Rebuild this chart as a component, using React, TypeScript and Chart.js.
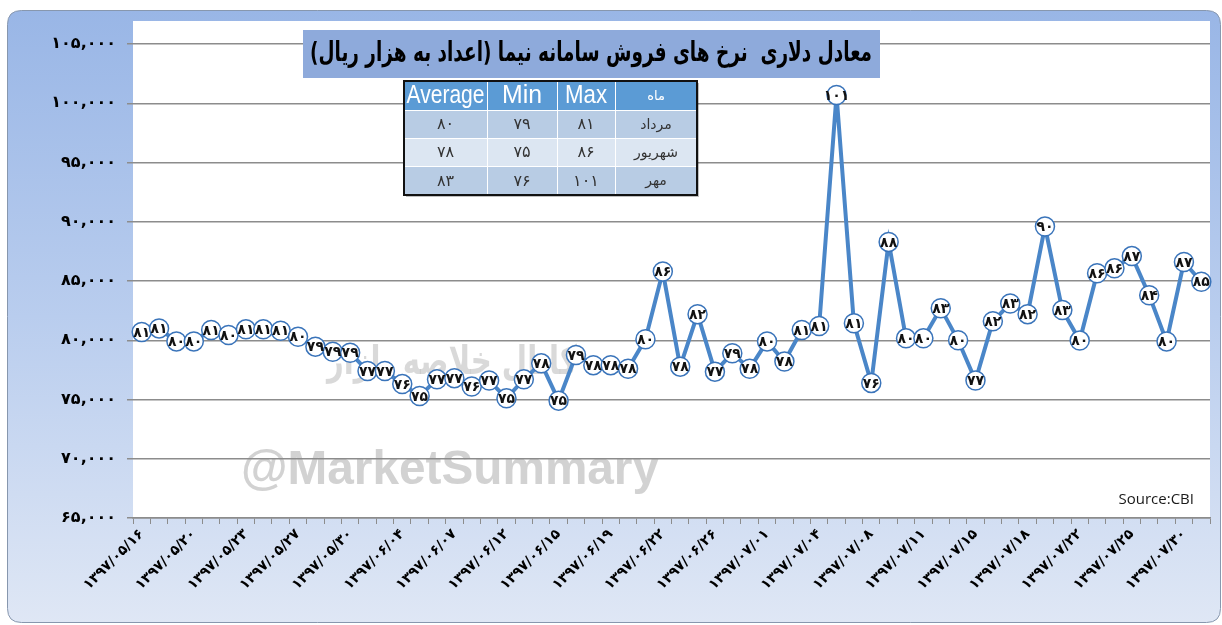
import React, { useEffect, useRef } from 'react';
import { Chart, registerables } from 'chart.js';

Chart.register(...registerables);

// ---------- data ----------
const dates: string[] = [
  '1397/05/16', '1397/05/17', '1397/05/18', '1397/05/20', '1397/05/21', '1397/05/22',
  '1397/05/23', '1397/05/24', '1397/05/25', '1397/05/27', '1397/05/28', '1397/05/29',
  '1397/05/30', '1397/06/01', '1397/06/03', '1397/06/04', '1397/06/05', '1397/06/06',
  '1397/06/07', '1397/06/10', '1397/06/11', '1397/06/12', '1397/06/13', '1397/06/14',
  '1397/06/15', '1397/06/17', '1397/06/18', '1397/06/19', '1397/06/20', '1397/06/21',
  '1397/06/22', '1397/06/24', '1397/06/25', '1397/06/26', '1397/06/27', '1397/06/31',
  '1397/07/01', '1397/07/02', '1397/07/03', '1397/07/04', '1397/07/05', '1397/07/07',
  '1397/07/08', '1397/07/09', '1397/07/10', '1397/07/11', '1397/07/12', '1397/07/14',
  '1397/07/15', '1397/07/16', '1397/07/17', '1397/07/18', '1397/07/19', '1397/07/21',
  '1397/07/22', '1397/07/23', '1397/07/24', '1397/07/25', '1397/07/28', '1397/07/29',
  '1397/07/30', '1397/08/01',
];

// rial (thousands shown as labels)
const rates: number[] = [
  80700, 81000, 79900, 79900, 80870, 80440, 80920, 80920, 80800, 80300, 79460, 79030,
  78950, 77400, 77400, 76300, 75300, 76700, 76800, 76100, 76600, 75100, 76700, 78050,
  74900, 78760, 77900, 77900, 77600, 80080, 85800, 77770, 82200, 77350, 78900, 77600,
  79900, 78200, 80870, 81200, 100700, 81430, 76400, 88300, 80160, 80160, 82700, 80000,
  76600, 81600, 83100, 82200, 89600, 82550, 79970, 85650, 86070, 87100, 83800, 79900,
  86600, 84940,
];

const yMin = 65000;
const yMax = 105000;
const yStep = 5000;
const labelEvery = 3;

const tableHeaders: string[] = ['Average', 'Min', 'Max', 'ماه'];
const tableMonths: string[] = ['مرداد', 'شهریور', 'مهر'];
const tableAverage: number[] = [80, 78, 83];
const tableMin: number[] = [79, 75, 76];
const tableMax: number[] = [81, 86, 101];

const titleText = 'معادل دلاری  نرخ های فروش سامانه نیما (اعداد به هزار ریال)';
const sourceText = 'Source:CBI';
const watermarkEn = '@MarketSummary';
const watermarkFa = 'کانال خلاصه بازار';

// ---------- helpers ----------
const faDigits = '۰۱۲۳۴۵۶۷۸۹';
const fa = (s: string | number) => String(s).replace(/\d/g, (d) => faDigits[+d]);
const FA_FONT = '"DejaVu Sans", sans-serif';
const W = 1222;
const H = 625;

function roundRect(ctx: CanvasRenderingContext2D, x: number, y: number, w: number, h: number, r: number) {
  ctx.beginPath();
  ctx.moveTo(x + r, y);
  ctx.lineTo(x + w - r, y);
  ctx.quadraticCurveTo(x + w, y, x + w, y + r);
  ctx.lineTo(x + w, y + h - r);
  ctx.quadraticCurveTo(x + w, y + h, x + w - r, y + h);
  ctx.lineTo(x + r, y + h);
  ctx.quadraticCurveTo(x, y + h, x, y + h - r);
  ctx.lineTo(x, y + r);
  ctx.quadraticCurveTo(x, y, x + r, y);
  ctx.closePath();
}

// draw text squeezed horizontally so it spans a given width
function drawFitted(ctx: CanvasRenderingContext2D, text: string, cx: number, cy: number, width: number) {
  const w = ctx.measureText(text).width;
  const sx = Math.min(1, width / w);
  ctx.save();
  ctx.translate(cx, cy);
  ctx.scale(sx, 1);
  ctx.fillText(text, 0, 0);
  ctx.restore();
}

const backgroundPlugin = {
  id: 'bgFrame',
  beforeDraw(chart: any) {
    const { ctx, chartArea } = chart;
    ctx.save();
    const g = ctx.createLinearGradient(0, 10, 0, 623);
    g.addColorStop(0, '#99b6e6');
    g.addColorStop(0.5, '#b9cdee');
    g.addColorStop(1, '#dfe7f5');
    roundRect(ctx, 7.5, 10.5, 1213, 612, 14);
    ctx.fillStyle = g;
    ctx.fill();
    ctx.strokeStyle = '#8797ae';
    ctx.lineWidth = 1;
    ctx.stroke();
    ctx.fillStyle = '#ffffff';
    ctx.fillRect(chartArea.left, 21, chartArea.right - chartArea.left, chartArea.bottom - 21);
    // watermarks
    ctx.fillStyle = 'rgba(205,205,205,0.9)';
    ctx.textAlign = 'center';
    ctx.textBaseline = 'alphabetic';
    ctx.font = 'bold 48px "Liberation Sans", Arial, sans-serif';
    drawFitted(ctx, watermarkEn, 450, 484, 418);
    ctx.fillStyle = 'rgba(185,185,185,0.55)';
    ctx.direction = 'rtl';
    ctx.font = `bold 40px ${FA_FONT}`;
    drawFitted(ctx, watermarkFa, 452, 374, 250);
    ctx.restore();
  },
};

const pointLabelPlugin = {
  id: 'pointLabels',
  afterDatasetsDraw(chart: any) {
    const { ctx } = chart;
    const meta = chart.getDatasetMeta(0);
    ctx.save();
    ctx.fillStyle = '#111';
    ctx.font = `bold 14px ${FA_FONT}`;
    ctx.textAlign = 'center';
    ctx.textBaseline = 'middle';
    meta.data.forEach((pt: any, i: number) => {
      ctx.fillText(fa(Math.round(rates[i] / 1000)), pt.x, pt.y + 1);
    });
    ctx.restore();
  },
};

const overlayPlugin = {
  id: 'overlay',
  afterDraw(chart: any) {
    const { ctx } = chart;
    ctx.save();
    // title box
    ctx.fillStyle = '#8eaadb';
    ctx.fillRect(303, 30, 577, 48);
    ctx.fillStyle = '#000';
    ctx.direction = 'rtl';
    ctx.textAlign = 'center';
    ctx.textBaseline = 'middle';
    ctx.font = `bold 27px ${FA_FONT}`;
    drawFitted(ctx, titleText, 591, 54, 562);

    // table
    const cols = [404, 487, 557, 615, 697];
    const rows = [81, 110, 138, 166, 195];
    ctx.direction = 'ltr';
    ctx.fillStyle = 'rgba(0,0,0,0.25)';
    ctx.fillRect(cols[0] + 2, rows[0] + 2, cols[4] - cols[0], rows[4] - rows[0]);
    const rowFill = ['#5b9bd5', '#b8cce4', '#dce6f2', '#b8cce4'];
    for (let r = 0; r < 4; r++) {
      ctx.fillStyle = rowFill[r];
      ctx.fillRect(cols[0], rows[r], cols[4] - cols[0], rows[r + 1] - rows[r]);
    }
    ctx.strokeStyle = '#ffffff';
    ctx.lineWidth = 1;
    for (let c = 1; c < 4; c++) {
      ctx.beginPath();
      ctx.moveTo(cols[c] + 0.5, rows[0]);
      ctx.lineTo(cols[c] + 0.5, rows[4]);
      ctx.stroke();
    }
    for (let r = 1; r < 4; r++) {
      ctx.beginPath();
      ctx.moveTo(cols[0], rows[r] + 0.5);
      ctx.lineTo(cols[4], rows[r] + 0.5);
      ctx.stroke();
    }
    ctx.strokeStyle = '#111';
    ctx.lineWidth = 2;
    ctx.strokeRect(cols[0], rows[0], cols[4] - cols[0], rows[4] - rows[0]);

    ctx.textAlign = 'center';
    ctx.textBaseline = 'middle';
    const headerW = [78, 40, 42];
    for (let c = 0; c < 4; c++) {
      const cx = (cols[c] + cols[c + 1]) / 2;
      const cy = (rows[0] + rows[1]) / 2 + 1;
      ctx.fillStyle = '#ffffff';
      if (c < 3) {
        ctx.font = '25px "Liberation Sans", Arial, sans-serif';
        drawFitted(ctx, tableHeaders[c], cx, cy, headerW[c]);
      } else {
        ctx.font = `13px ${FA_FONT}`;
        ctx.direction = 'rtl';
        ctx.fillText(tableHeaders[c], cx, cy);
        ctx.direction = 'ltr';
      }
    }
    const bodyCols: (string | number)[][] = [tableAverage, tableMin, tableMax, tableMonths];
    for (let r = 0; r < 3; r++) {
      const cy = (rows[r + 1] + rows[r + 2]) / 2 + 1;
      for (let c = 0; c < 4; c++) {
        const cx = (cols[c] + cols[c + 1]) / 2;
        ctx.fillStyle = '#333333';
        if (c < 3) {
          ctx.font = `16px ${FA_FONT}`;
          ctx.fillText(fa(bodyCols[c][r]), cx, cy);
        } else {
          ctx.font = `14px ${FA_FONT}`;
          ctx.direction = 'rtl';
          ctx.fillText(String(bodyCols[c][r]), cx, cy);
          ctx.direction = 'ltr';
        }
      }
    }

    // source
    ctx.fillStyle = '#1a1a1a';
    ctx.font = '15px "Open Sans", "Liberation Sans", sans-serif';
    ctx.textAlign = 'right';
    ctx.textBaseline = 'alphabetic';
    ctx.fillText(sourceText, 1194, 504);
    ctx.restore();
  },
};

export default function App() {
  const ref = useRef<HTMLCanvasElement | null>(null);

  useEffect(() => {
    const canvas = ref.current;
    if (!canvas) return;
    const chart = new Chart(canvas, {
      type: 'line',
      data: {
        labels: dates,
        datasets: [
          {
            data: rates,
            borderColor: '#4a86c8',
            borderWidth: 4,
            pointRadius: 9.5,
            pointHoverRadius: 9.5,
            pointBackgroundColor: '#ffffff',
            pointBorderColor: '#3a74ba',
            pointBorderWidth: 1.5,
            tension: 0,
            clip: false as any,
          },
        ],
      },
      options: {
        responsive: false,
        animation: false,
        devicePixelRatio: 1,
        events: [],
        layout: { padding: { top: 44, right: 12, left: 0, bottom: 0 } },
        plugins: {
          legend: { display: false },
          tooltip: { enabled: false },
          title: { display: false },
        },
        scales: {
          x: {
            type: 'category',
            offset: true,
            grid: {
              offset: true,
              drawOnChartArea: false,
              drawTicks: true,
              tickLength: 6,
              color: '#8c8c8c',
              lineWidth: 1,
            },
            border: { color: '#8c8c8c', width: 1.5 },
            ticks: {
              autoSkip: false,
              maxRotation: 45,
              minRotation: 45,
              padding: 2,
              color: '#000',
              font: { family: FA_FONT, weight: 'bold', size: 14 },
              callback: (_v: any, i: number) => (i % labelEvery === 0 ? fa(dates[i]) : ''),
            },
            afterFit: (s: any) => {
              s.height = H - 518;
            },
          },
          y: {
            min: yMin,
            max: yMax,
            ticks: {
              stepSize: yStep,
              color: '#000',
              padding: 11,
              font: { family: FA_FONT, weight: 'bold', size: 16 },
              callback: (v: any) => fa(Number(v).toLocaleString('en-US')),
            },
            grid: { color: '#8c8c8c', lineWidth: 1.5, tickLength: 6 },
            border: { display: false },
            afterFit: (s: any) => {
              s.width = 133;
            },
          },
        },
      } as any,
      plugins: [backgroundPlugin, pointLabelPlugin, overlayPlugin],
    });
    return () => chart.destroy();
  }, []);

  return (
    <div style={{ position: 'fixed', left: 0, top: 0, width: W, height: H, background: '#fff' }}>
      <canvas ref={ref} width={W} height={H} style={{ display: 'block', width: W, height: H }} />
    </div>
  );
}
